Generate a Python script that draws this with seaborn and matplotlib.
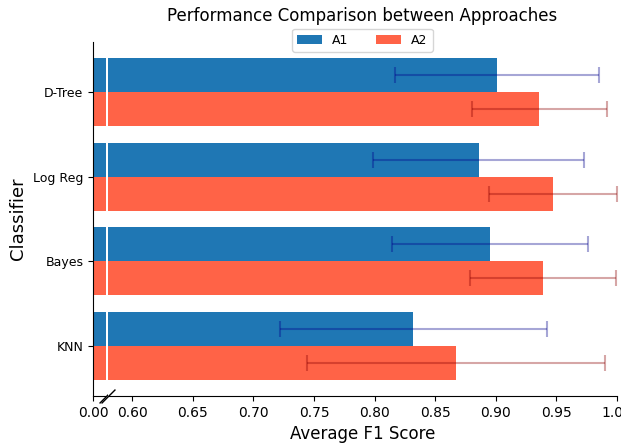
import matplotlib
matplotlib.use("Agg")
import matplotlib.pyplot as plt
import seaborn as sns
import numpy as np
import pandas as pd

classifiers = ["D-Tree", "Log Reg", "Bayes", "KNN"]
approaches = ["A1", "A2"]
a1_scores = [0.901, 0.886, 0.895, 0.832]
a2_scores = [0.936, 0.947, 0.939, 0.867]
a1_err = [0.084, 0.087, 0.081, 0.110]
a2_err = [0.056, 0.053, 0.060, 0.123]
palette = {"A1": "#1f77b4", "A2": "tomato"}
err_colors = {"A1": "darkblue", "A2": "darkred"}

df = pd.DataFrame({
    "Classifier": classifiers * 2,
    "Approach": ["A1"] * 4 + ["A2"] * 4,
    "F1": a1_scores + a2_scores,
})
errs = {"A1": a1_err, "A2": a2_err}

fig = plt.figure(figsize=(6.21, 4.45), dpi=100)
bottom, height = 49 / 445, 354 / 445
ax_l = fig.add_axes([93 / 621, bottom, 13 / 621, height])
ax_r = fig.add_axes([108 / 621, bottom, 509 / 621, height])

for ax in (ax_l, ax_r):
    sns.barplot(data=df, x="F1", y="Classifier", hue="Approach", order=classifiers,
                hue_order=approaches, palette=palette, orient="h", errorbar=None,
                saturation=1, linewidth=0, ax=ax)
    ax.set_ylim(3.59, -0.59)

# error bars on the main (right) axis
for container, name in zip(ax_r.containers, approaches):
    ys = [b.get_y() + b.get_height() / 2 for b in container]
    xs = [b.get_width() for b in container]
    ax_r.errorbar(xs, ys, xerr=errs[name], fmt="none", ecolor=err_colors[name],
                  alpha=0.35, capsize=6, elinewidth=1.5, capthick=1.5, zorder=5,
                  clip_on=False)

ax_l.set_xlim(0, 0.01)
ax_l.set_xticks([0.0])
ax_l.set_xticklabels(["0.00"])
ax_l.legend_.remove()
ax_l.set_xlabel("")
ax_l.set_ylabel("Classifier", fontsize=13)
ax_l.tick_params(axis="y", length=3.5, labelsize=9)
ax_l.tick_params(axis="x", length=3.5, labelsize=10)
ax_l.spines["right"].set_visible(False)
ax_l.spines["top"].set_visible(False)

ax_r.set_xlim(0.58, 1.0)
ticks = np.arange(0.60, 1.001, 0.05)
ax_r.set_xticks(ticks)
ax_r.set_xticklabels([f"{t:.2f}" for t in ticks])
ax_r.tick_params(axis="x", length=3.5, labelsize=10)
ax_r.set_yticks([])
ax_r.set_ylabel("")
ax_r.set_xlabel("Average F1 Score", fontsize=12, labelpad=4)
for s in ("left", "top", "right"):
    ax_r.spines[s].set_visible(False)
ax_r.set_title("Performance Comparison between Approaches", fontsize=12, pad=15)
ax_r.legend(loc="upper center", bbox_to_anchor=(0.5, 1.055), ncol=2, fontsize=9,
            columnspacing=2.2, title=None)

# break marks
mk = dict(marker=[(-1, -1), (1, 1)], markersize=10, linestyle="none",
          color="k", mec="k", mew=1, clip_on=False)
ax_l.plot([1], [0], transform=ax_l.transAxes, **mk)
ax_r.plot([0], [0], transform=ax_r.transAxes, **mk)

fig.savefig("out.png", dpi=100)
